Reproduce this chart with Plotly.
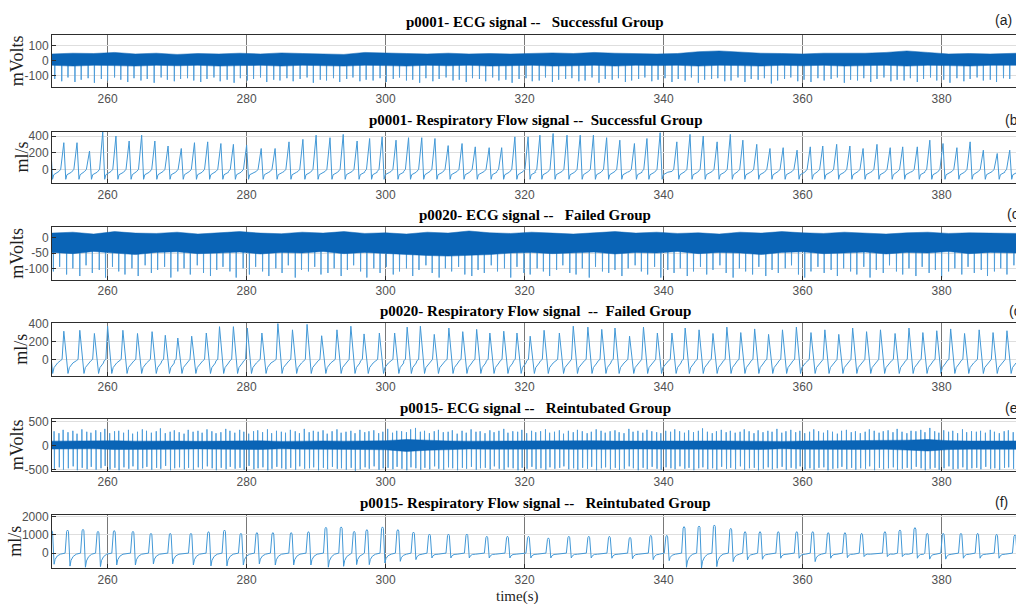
import plotly.graph_objects as go

# ---------------- data ----------------
x_ticks = [260, 280, 300, 320, 340, 360, 380]
x_range = [252, 390.7]

titles = [
    "p0001- ECG signal --\u00a0\u00a0 Successful Group",
    "p0001- Respiratory Flow signal --\u00a0 Successful Group",
    "p0020- ECG signal --\u00a0\u00a0 Failed Group",
    "p0020- Respiratory Flow signal\u00a0 --\u00a0 Failed Group",
    "p0015- ECG signal --\u00a0\u00a0 Reintubated Group",
    "p0015- Respiratory Flow signal --\u00a0\u00a0 Reintubated Group",
]
panel_letters = ["(a)", "(b)", "(c)", "(d)", "(e)", "(f)"]
y_titles = ["mVolts", "ml/s", "mVolts", "ml/s", "mVolts", "ml/s"]
y_ranges = [[-175, 170], [-168, 452], [-138, 34], [-178, 402], [-527, 550], [-820, 2090]]
y_ticks = [[-100, 0, 100], [0, 200, 400], [-100, -50, 0], [0, 200, 400], [-500, 0, 500], [0, 1000, 2000]]

# ECG band envelopes (dense noise band), sampled every ~3 s
ecg_env_t = [252, 255, 258, 261, 264, 267, 270, 273, 276, 279, 282, 285, 288, 291, 294, 297,
             300, 303, 306, 309, 312, 315, 318, 321, 324, 327, 330, 333, 336, 339, 342, 345,
             348, 351, 354, 357, 360, 363, 366, 369, 372, 375, 378, 381, 384, 387, 391]
ecg_a_upper = [45, 50, 48, 55, 45, 50, 42, 48, 45, 50, 45, 52, 48, 45, 42, 55, 50, 48, 45, 50,
               45, 48, 45, 50, 52, 48, 55, 50, 48, 45, 48, 60, 65, 55, 50, 48, 45, 50, 48, 50,
               55, 65, 55, 45, 48, 45, 50]
ecg_a_lower = [-30, -35, -30, -32, -35, -30, -33, -30, -35, -32, -30, -35, -30, -33, -35, -30,
               -32, -35, -30, -33, -30, -35, -32, -30, -35, -33, -30, -35, -30, -32, -30, -35,
               -30, -32, -35, -30, -33, -30, -35, -32, -30, -35, -30, -32, -35, -30, -30]
ecg_c_upper = [15, 18, 12, 20, 15, 14, 18, 12, 16, 20, 15, 13, 18, 15, 20, 14, 16, 12, 18, 15,
               22, 16, 14, 18, 15, 12, 16, 20, 15, 18, 14, 16, 12, 18, 15, 20, 16, 14, 18, 15,
               12, 16, 18, 14, 16, 15, 14]
ecg_c_lower = [-48, -52, -45, -50, -55, -48, -46, -52, -50, -47, -53, -48, -50, -45, -52, -48,
               -50, -55, -58, -60, -58, -55, -50, -48, -52, -50, -47, -53, -48, -50, -45, -52,
               -48, -50, -55, -48, -46, -52, -50, -47, -53, -48, -50, -45, -52, -48, -50]
ecg_e_upper = [95, 100, 90, 105, 95, 100, 98, 92, 100, 95, 102, 90, 98, 100, 95, 102, 105, 130,
               110, 100, 95, 98, 92, 100, 95, 100, 105, 98, 95, 100, 92, 98, 100, 95, 102, 90,
               98, 100, 95, 102, 100, 115, 130, 105, 98, 95, 100]
ecg_e_lower = [-70, -75, -65, -80, -70, -75, -72, -68, -75, -70, -78, -65, -72, -75, -70, -80,
               -85, -120, -95, -80, -70, -72, -68, -75, -70, -75, -80, -72, -70, -75, -68, -72,
               -75, -70, -78, -65, -72, -75, -70, -78, -75, -90, -110, -80, -72, -70, -75]

# ECG beats (R spikes): times (s) and spike extremes
ecg_a_beat_t = [252.4, 253.4, 254.3, 255.3, 256.2, 257.2, 258.1, 259.1, 260.0, 261.0,
                261.9, 262.9, 263.8, 264.8, 265.7, 266.7, 267.7, 268.6, 269.6, 270.5,
                271.5, 272.4, 273.4, 274.3, 275.3, 276.2, 277.2, 278.2, 279.1, 280.1,
                281.0, 282.0, 282.9, 283.9, 284.8, 285.8, 286.7, 287.7, 288.7, 289.6,
                290.6, 291.5, 292.5, 293.4, 294.4, 295.3, 296.3, 297.2, 298.2, 299.2,
                300.1, 301.1, 302.0, 303.0, 303.9, 304.9, 305.8, 306.8, 307.7, 308.7,
                309.7, 310.6, 311.6, 312.5, 313.5, 314.4, 315.4, 316.3, 317.3, 318.2,
                319.2, 320.2, 321.1, 322.1, 323.0, 324.0, 324.9, 325.9, 326.8, 327.8,
                328.7, 329.7, 330.7, 331.6, 332.6, 333.5, 334.5, 335.4, 336.4, 337.3,
                338.3, 339.2, 340.2, 341.2, 342.1, 343.1, 344.0, 345.0, 345.9, 346.9,
                347.8, 348.8, 349.7, 350.7, 351.7, 352.6, 353.6, 354.5, 355.5, 356.4,
                357.4, 358.3, 359.3, 360.2, 361.2, 362.2, 363.1, 364.1, 365.0, 366.0,
                366.9, 367.9, 368.8, 369.8, 370.7, 371.7, 372.7, 373.6, 374.6, 375.5,
                376.5, 377.4, 378.4, 379.3, 380.3, 381.2, 382.2, 383.2, 384.1, 385.1,
                386.0, 387.0, 387.9, 388.9, 389.8, 390.8]
ecg_a_beat_min = [-120, -135, -110, -140, -125, -115, -145, -120, -130, -110,
                  -125, -140, -115, -130, -120, -145, -110, -125, -135, -120,
                  -115, -130, -140, -120, -110, -135, -125, -145, -115, -130,
                  -120, -110, -140, -125, -130, -115, -135, -120, -110, -145,
                  -125, -130, -115, -140, -120, -110, -135, -125, -130, -115,
                  -140, -120, -110, -130, -125, -145, -115, -135, -120, -110,
                  -130, -125, -140, -115, -120, -135, -110, -130, -125, -145,
                  -120, -115, -135, -130, -110, -140, -125, -120, -115, -135,
                  -130, -110, -145, -120, -125, -115, -140, -130, -120, -110,
                  -135, -125, -115, -140, -120, -130, -110, -145, -125, -120,
                  -115, -135, -130, -110, -140, -120, -125, -115, -150, -130,
                  -120, -110, -135, -125, -140, -115, -130, -120, -110, -145,
                  -125, -130, -115, -140, -120, -110, -135, -125, -130, -115,
                  -140, -120, -110, -130, -125, -145, -115, -135, -120, -110,
                  -130, -125, -140, -115, -120, -135]

ecg_c_beat_t = [252.2, 253.1, 254.1, 255.0, 256.0, 256.9, 257.8, 258.8, 259.7, 260.7,
                261.6, 262.5, 263.5, 264.4, 265.4, 266.3, 267.2, 268.2, 269.1, 270.1,
                271.0, 271.9, 272.9, 273.8, 274.8, 275.7, 276.6, 277.6, 278.5, 279.5,
                280.4, 281.3, 282.3, 283.2, 284.2, 285.1, 286.0, 287.0, 287.9, 288.9,
                289.8, 290.7, 291.7, 292.6, 293.6, 294.5, 295.4, 296.4, 297.3, 298.3,
                299.2, 300.1, 301.1, 302.0, 303.0, 303.9, 304.8, 305.8, 306.7, 307.7,
                308.6, 309.5, 310.5, 311.4, 312.4, 313.3, 314.2, 315.2, 316.1, 317.1,
                318.0, 318.9, 319.9, 320.8, 321.8, 322.7, 323.6, 324.6, 325.5, 326.5,
                327.4, 328.3, 329.3, 330.2, 331.2, 332.1, 333.0, 334.0, 334.9, 335.9,
                336.8, 337.7, 338.7, 339.6, 340.6, 341.5, 342.4, 343.4, 344.3, 345.3,
                346.2, 347.1, 348.1, 349.0, 350.0, 350.9, 351.8, 352.8, 353.7, 354.7,
                355.6, 356.5, 357.5, 358.4, 359.4, 360.3, 361.2, 362.2, 363.1, 364.1,
                365.0, 365.9, 366.9, 367.8, 368.8, 369.7, 370.6, 371.6, 372.5, 373.5,
                374.4, 375.3, 376.3, 377.2, 378.2, 379.1, 380.0, 381.0, 381.9, 382.9,
                383.8, 384.7, 385.7, 386.6, 387.6, 388.5, 389.4, 390.4]
ecg_c_beat_min = [-110, -95, -120, -100, -125, -90, -115, -105, -130, -95,
                  -110, -120, -100, -125, -90, -115, -105, -95, -130, -110,
                  -100, -120, -90, -115, -125, -105, -95, -110, -130, -100,
                  -120, -95, -110, -125, -100, -115, -90, -130, -105, -110,
                  -95, -120, -115, -100, -125, -105, -90, -110, -130, -100,
                  -115, -95, -120, -110, -100, -125, -105, -90, -115, -130,
                  -100, -110, -95, -120, -125, -105, -115, -90, -110, -100,
                  -130, -95, -115, -120, -100, -110, -125, -105, -90, -115,
                  -120, -100, -130, -95, -110, -115, -105, -125, -100, -90,
                  -110, -120, -95, -130, -105, -115, -100, -125, -110, -95,
                  -120, -105, -90, -115, -130, -100, -110, -120, -95, -125,
                  -105, -115, -100, -90, -120, -130, -110, -95, -115, -105,
                  -125, -100, -110, -120, -95, -130, -105, -115, -90, -110,
                  -120, -100, -125, -95, -115, -105, -130, -110, -100, -120,
                  -95, -115, -105, -125, -110, -100, -120, -90]

ecg_e_beat_t = [252.3, 253.0, 253.6, 254.3, 255.0, 255.6, 256.3, 257.0, 257.6, 258.3,
                259.0, 259.6, 260.3, 261.0, 261.6, 262.3, 263.0, 263.6, 264.3, 265.0,
                265.6, 266.3, 267.0, 267.6, 268.3, 269.0, 269.6, 270.3, 271.0, 271.6,
                272.3, 273.0, 273.6, 274.3, 275.0, 275.6, 276.3, 277.0, 277.6, 278.3,
                279.0, 279.6, 280.3, 281.0, 281.6, 282.3, 283.0, 283.6, 284.3, 285.0,
                285.6, 286.3, 287.0, 287.6, 288.3, 289.0, 289.6, 290.3, 291.0, 291.6,
                292.3, 293.0, 293.6, 294.3, 295.0, 295.6, 296.3, 297.0, 297.6, 298.3,
                299.0, 299.6, 300.3, 301.0, 301.6, 302.3, 303.0, 303.6, 304.3, 305.0,
                305.6, 306.3, 307.0, 307.6, 308.3, 309.0, 309.6, 310.3, 311.0, 311.6,
                312.3, 313.0, 313.6, 314.3, 315.0, 315.6, 316.3, 317.0, 317.6, 318.3,
                319.0, 319.6, 320.3, 321.0, 321.6, 322.3, 323.0, 323.6, 324.3, 325.0,
                325.6, 326.3, 327.0, 327.6, 328.3, 329.0, 329.6, 330.3, 331.0, 331.6,
                332.3, 333.0, 333.6, 334.3, 335.0, 335.6, 336.3, 337.0, 337.6, 338.3,
                339.0, 339.6, 340.3, 341.0, 341.6, 342.3, 343.0, 343.6, 344.3, 345.0,
                345.6, 346.3, 347.0, 347.6, 348.3, 349.0, 349.6, 350.3, 351.0, 351.6,
                352.3, 353.0, 353.6, 354.3, 355.0, 355.6, 356.3, 357.0, 357.6, 358.3,
                359.0, 359.6, 360.3, 361.0, 361.6, 362.3, 363.0, 363.6, 364.3, 365.0,
                365.6, 366.3, 367.0, 367.6, 368.3, 369.0, 369.6, 370.3, 371.0, 371.6,
                372.3, 373.0, 373.6, 374.3, 375.0, 375.6, 376.3, 377.0, 377.6, 378.3,
                379.0, 379.6, 380.3, 381.0, 381.6, 382.3, 383.0, 383.6, 384.3, 385.0,
                385.6, 386.3, 387.0, 387.6, 388.3, 389.0, 389.6, 390.3]
ecg_e_beat_max = [300, 260, 330, 280, 310, 250, 340, 290, 270, 320,
                  280, 350, 260, 300, 310, 270, 330, 250, 290, 340,
                  310, 270, 300, 360, 260, 290, 320, 280, 250, 330,
                  290, 310, 270, 340, 300, 260, 280, 350, 310, 270,
                  330, 290, 250, 300, 320, 280, 340, 260, 310, 290,
                  270, 330, 300, 260, 350, 280, 310, 290, 320, 250,
                  300, 340, 270, 290, 310, 260, 330, 280, 300, 320,
                  260, 290, 350, 270, 310, 300, 280, 340, 370, 290,
                  310, 260, 300, 330, 280, 290, 320, 250, 310, 270,
                  340, 290, 300, 260, 320, 280, 310, 350, 270, 300,
                  290, 330, 260, 310, 280, 300, 340, 270, 290, 320,
                  250, 310, 280, 330, 300, 260, 290, 340, 310, 270,
                  300, 320, 280, 260, 350, 290, 310, 270, 330, 300,
                  280, 260, 310, 290, 340, 300, 270, 320, 280, 310,
                  360, 290, 260, 300, 330, 280, 310, 270, 290, 340,
                  300, 260, 320, 280, 310, 290, 350, 270, 300, 330,
                  280, 310, 260, 290, 340, 300, 270, 320, 290, 250,
                  310, 330, 280, 300, 260, 290, 340, 310, 270, 300,
                  320, 280, 350, 290, 260, 310, 300, 330, 280, 370,
                  300, 270, 320, 290, 310, 260, 340, 280, 300, 290,
                  310, 270, 330, 290, 260, 300, 320, 280]
ecg_e_beat_min = [-480, -450, -500, -470, -430, -510, -460, -490, -440, -500,
                  -470, -420, -490, -460, -510, -450, -480, -430, -500, -470,
                  -440, -500, -460, -480, -420, -510, -470, -450, -490, -460,
                  -500, -450, -480, -430, -470, -510, -460, -490, -440, -480,
                  -460, -500, -420, -490, -470, -450, -510, -480, -440, -470,
                  -490, -460, -500, -430, -480, -470, -450, -510, -460, -490,
                  -440, -480, -470, -500, -460, -520, -490, -450, -480, -430,
                  -500, -470, -460, -490, -440, -480, -510, -450, -470, -500,
                  -460, -490, -430, -480, -500, -450, -470, -510, -460, -480,
                  -440, -500, -470, -460, -490, -430, -480, -500, -450, -470,
                  -510, -460, -480, -440, -490, -470, -500, -450, -480, -460,
                  -430, -490, -470, -500, -460, -480, -440, -510, -470, -450,
                  -490, -460, -500, -480, -430, -470, -510, -460, -490, -440,
                  -480, -500, -450, -470, -490, -430, -480, -460, -510, -470,
                  -450, -490, -470, -500, -440, -480, -460, -490, -430, -500,
                  -470, -460, -510, -480, -450, -490, -470, -440, -500, -460,
                  -480, -430, -490, -470, -500, -460, -450, -510, -480, -470,
                  -440, -490, -460, -500, -470, -480, -430, -510, -460, -490,
                  -470, -450, -500, -480, -460, -490, -440, -470, -510, -480,
                  -460, -500, -470, -430, -490, -480, -450, -500, -470, -460,
                  -490, -440, -480, -470, -500, -460, -450, -480]

# Respiratory flow: breath peak times (s) and peak flows (ml/s)
resp_b_peak_t = [251.8, 253.7, 255.6, 257.4, 259.3, 261.2, 263.1, 264.9, 266.8, 268.7, 270.6,
                 272.5, 274.4, 276.3, 278.1, 280.0, 282.1, 284.1, 286.1, 288.1, 290.0,
                 292.0, 293.9, 295.9, 297.7, 299.5, 301.5, 303.3, 305.2, 307.1, 309.0,
                 311.0, 312.9, 314.9, 316.7, 318.6, 320.5, 322.2, 324.1, 326.1, 328.0,
                 329.9, 331.8, 333.7, 335.8, 337.6, 339.5, 341.9, 343.8, 345.7, 347.7,
                 349.6, 351.4, 353.4, 355.3, 357.2, 359.2, 361.1, 362.9, 364.9, 366.8,
                 368.7, 370.7, 372.6, 374.4, 376.5, 378.3, 380.2, 382.2, 384.1, 386.0,
                 388.0, 389.8]
resp_b_peak_v = [300, 320, 320, 220, 450, 400, 340, 410, 340, 280, 250,
                 320, 330, 310, 300, 290, 250, 250, 330, 360, 410,
                 380, 420, 340, 370, 390, 350, 380, 380, 370, 285,
                 310, 270, 260, 260, 390, 390, 410, 430, 410, 410,
                 410, 380, 350, 310, 370, 440, 330, 420, 400, 330,
                 420, 350, 300, 250, 260, 230, 270, 280, 300, 280,
                 250, 300, 260, 270, 270, 350, 310, 260, 330, 230,
                 190, 230]

resp_d_peak_t = [251.5, 253.7, 256.0, 258.1, 260.0, 262.2, 264.3, 266.4, 268.3, 270.1, 272.1,
                 274.2, 276.1, 278.1, 280.1, 282.2, 284.5, 286.6, 288.7, 290.8, 293.0,
                 295.0, 296.9, 299.1, 301.3, 303.1, 305.0, 307.0, 309.1, 311.1, 313.1,
                 315.0, 317.0, 318.9, 320.8, 322.8, 325.0, 327.0, 329.1, 331.1, 333.0,
                 335.1, 337.1, 339.1, 341.2, 343.1, 345.1, 347.1, 349.1, 351.1, 353.1,
                 355.1, 357.1, 359.1, 361.2, 363.2, 365.2, 367.2, 369.2, 371.2, 373.3,
                 375.3, 377.3, 379.3, 381.3, 383.3, 385.4, 387.4, 389.4]
resp_d_peak_v = [300, 315, 325, 290, 370, 325, 290, 310, 270, 240, 260,
                 295, 365, 365, 350, 295, 400, 330, 390, 265, 330,
                 370, 285, 295, 295, 360, 370, 280, 350, 310, 335,
                 295, 315, 295, 260, 325, 295, 370, 360, 335, 350,
                 260, 360, 295, 295, 350, 330, 290, 360, 300, 340,
                 280, 330, 360, 300, 330, 280, 350, 310, 330, 290,
                 350, 300, 320, 340, 290, 330, 300, 320]

resp_f_peak_t = [251.95, 254.24, 256.46, 258.62, 260.96, 263.65, 266.24, 269.01, 271.99,
                 274.52, 276.82, 279.18, 281.48, 283.78, 286.42, 288.90, 291.41, 293.61,
                 295.48, 297.30, 299.55, 301.76, 304.01, 306.31, 309.04, 311.69, 314.56,
                 317.53, 320.55, 323.42, 326.36, 329.23, 332.20, 335.17, 338.15, 340.45,
                 342.94, 345.10, 347.30, 349.66, 351.72, 353.87, 356.50, 359.15, 361.45,
                 363.69, 366.09, 368.49, 371.84, 374.00, 376.16, 377.93, 380.23, 382.78,
                 385.18, 387.91, 390.54]
resp_f_peak_v = [1250, 1270, 1310, 1200, 1240, 1200, 1090, 1090, 1090,
                 1180, 1270, 1090, 1130, 1130, 1130, 1180, 1420, 1440,
                 1200, 1290, 1440, 1290, 1160, 1050, 1050, 1050, 930,
                 930, 930, 840, 930, 930, 930, 870, 980, 980,
                 1455, 1490, 1545, 1364, 1182, 1182, 1182, 1182, 1182,
                 1127, 1127, 1090, 1182, 1273, 1400, 1090, 1090, 1090,
                 1090, 1036, 1000]
resp_f_trough_v = [-600, -700, -760, -727, -640, -640, -580, -580, -640,
                   -690, -690, -640, -580, -640, -640, -640, -760, -710,
                   -620, -620, -530, -440, -345, -255, -255, -255, -255,
                   -255, -255, -255, -255, -255, -270, -300, -345, -400,
                   -763, -800, -727, -455, -364, -327, -270, -270, -455,
                   -270, -240, -180, -180, -180, -270, -320, -320, -270,
                   -270, -270, -250]

# breath shapes (time offset from peak, flow) read from single cycles
b_shape_dt = [-0.7, -0.45, 0.0, 0.28, 0.45, 1.1]
b_shape_v = [-25, 0, None, -120, -65, -35]
d_shape_dt = [-0.5, -0.25, 0.0, 0.6, 0.8, 1.3]
d_shape_v = [-10, 5, None, -150, -85, -35]
f_shape_dt = [-0.35, -0.13, 0.0, 0.13, 0.35, 0.5, 0.8, 1.25]

# ---------------- styling ----------------
W, H = 1016, 604
LM = 52
panels_px = [(35, 87.3), (131.7, 183.3), (227.3, 280), (323.3, 376), (419.3, 471), (515, 568.3)]
title_y_px = [22, 120, 215, 311, 408, 503]
letter_px = [(993, 20), (1003, 120), (1005, 214), (1007, 311), (1003, 408), (993, 502)]
ytitle_x_px = [17, 21, 17, 21, 17, 15]

BAND = "rgb(10,100,182)"
SPIKE = "rgb(80,158,218)"
RESP = "rgb(66,152,214)"
SANS = "Liberation Sans, Arial, sans-serif"
SERIF = "Liberation Serif, Times New Roman, serif"


def px_x(p):
    return (p - LM) / (W - LM)


def px_y(p):
    return 1 - p / H


fig = go.Figure()


def add_ecg(k, beat_t, beat_min, upper, lower, base, beat_max=None):
    xs, ys = [], []
    for i, t in enumerate(beat_t):
        if beat_max is None:
            xs += [t - 0.03, t, t + 0.04]
            ys += [base, beat_min[i], base]
        else:
            xs += [t - 0.02, t, t + 0.05, t + 0.08]
            ys += [base, beat_max[i], beat_min[i], base]
    ax = "" if k == 1 else str(k)
    fig.add_trace(go.Scatter(x=xs, y=ys, mode="lines", line=dict(color=SPIKE, width=1),
                             xaxis="x" + ax, yaxis="y" + ax, hoverinfo="skip"))
    fig.add_trace(go.Scatter(x=ecg_env_t + ecg_env_t[::-1], y=upper + lower[::-1],
                             mode="lines", fill="toself", fillcolor=BAND,
                             line=dict(color=BAND, width=0.5),
                             xaxis="x" + ax, yaxis="y" + ax, hoverinfo="skip"))


def add_resp(k, xs, ys):
    ax = "" if k == 1 else str(k)
    fig.add_trace(go.Scatter(x=xs, y=ys, mode="lines", line=dict(color=RESP, width=1),
                             xaxis="x" + ax, yaxis="y" + ax, hoverinfo="skip"))


def shape_line(peaks_t, peaks_v, dts, vals):
    xs, ys = [], []
    for t, p in zip(peaks_t, peaks_v):
        for dt, v in zip(dts, vals):
            xs.append(t + dt)
            ys.append(p if v is None else v)
    return xs, ys


# (a) ECG successful
add_ecg(1, ecg_a_beat_t, ecg_a_beat_min, ecg_a_upper, ecg_a_lower, 5)
# (b) resp successful
add_resp(2, *shape_line(resp_b_peak_t, resp_b_peak_v, b_shape_dt, b_shape_v))
# (c) ECG failed
add_ecg(3, ecg_c_beat_t, ecg_c_beat_min, ecg_c_upper, ecg_c_lower, -18)
# (d) resp failed
add_resp(4, *shape_line(resp_d_peak_t, resp_d_peak_v, d_shape_dt, d_shape_v))
# (e) ECG reintubated
add_ecg(5, ecg_e_beat_t, ecg_e_beat_min, ecg_e_upper, ecg_e_lower, 0, ecg_e_beat_max)
# (f) resp reintubated
fx, fy = [], []
for t, p, tr in zip(resp_f_peak_t, resp_f_peak_v, resp_f_trough_v):
    vals = [10, p - 80, p, p - 80, tr, tr * 0.55, tr * 0.25, -50]
    for dt, v in zip(f_shape_dt, vals):
        fx.append(t + dt)
        fy.append(v)
add_resp(6, fx, fy)

layout = dict(
    width=W, height=H,
    margin=dict(l=LM, r=0, t=0, b=0),
    paper_bgcolor="white", plot_bgcolor="white",
    showlegend=False,
)
annotations = []
for i in range(6):
    k = i + 1
    ax = "" if k == 1 else str(k)
    top, bot = panels_px[i]
    layout["xaxis" + ax] = dict(
        domain=[0, 1], anchor="y" + ax, range=x_range,
        tickmode="array", tickvals=x_ticks, ticktext=[str(v) for v in x_ticks],
        showgrid=True, gridcolor="rgb(120,120,120)", gridwidth=1,
        zeroline=False, showline=True, linecolor="rgb(45,45,45)", linewidth=1, mirror=True,
        ticks="inside", ticklen=4, tickcolor="rgb(45,45,45)",
        tickfont=dict(family=SANS, size=12, color="rgb(80,80,80)"), automargin=False,
    )
    layout["yaxis" + ax] = dict(
        domain=[px_y(bot), px_y(top)], anchor="x" + ax, range=y_ranges[i],
        tickmode="array", tickvals=y_ticks[i], ticktext=[str(v) for v in y_ticks[i]],
        showgrid=True, gridcolor="rgb(222,222,222)", gridwidth=1,
        zeroline=False, showline=True, linecolor="rgb(45,45,45)", linewidth=1, mirror=True,
        ticks="inside", ticklen=4, tickcolor="rgb(45,45,45)",
        tickfont=dict(family=SANS, size=12, color="rgb(80,80,80)"), automargin=False,
    )
    annotations.append(dict(
        text="<b>" + titles[i] + "</b>", xref="paper", yref="paper",
        x=px_x(535), y=px_y(title_y_px[i]), xanchor="center", yanchor="middle",
        showarrow=False, font=dict(family=SERIF, size=15, color="black")))
    lx, ly = letter_px[i]
    annotations.append(dict(
        text=panel_letters[i], xref="paper", yref="paper",
        x=px_x(lx), y=px_y(ly), xanchor="left", yanchor="middle",
        showarrow=False, font=dict(family=SANS, size=14, color="rgb(30,30,30)")))
    annotations.append(dict(
        text=y_titles[i], xref="paper", yref="paper", textangle=-90,
        x=px_x(ytitle_x_px[i]), y=px_y((top + bot) / 2), xanchor="center", yanchor="middle",
        showarrow=False, font=dict(family=SERIF, size=18, color="rgb(30,30,30)")))

annotations.append(dict(
    text="time(s)", xref="paper", yref="paper", x=px_x(517), y=px_y(596),
    xanchor="center", yanchor="middle", showarrow=False,
    font=dict(family=SERIF, size=15, color="rgb(30,30,30)")))
layout["annotations"] = annotations
fig.update_layout(**layout)

fig.write_html("out.html", config={"displayModeBar": False},
               post_script="document.body.style.margin='0';")
